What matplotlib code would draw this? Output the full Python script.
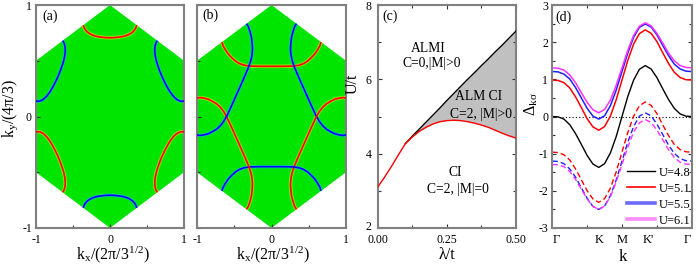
import numpy as np
import matplotlib
matplotlib.use('Agg')
import matplotlib.pyplot as plt
from matplotlib.lines import Line2D
from matplotlib.ticker import MultipleLocator, FixedLocator
from matplotlib.transforms import ScaledTranslation

plt.rcParams['font.family'] = ['Liberation Serif', 'DejaVu Serif']
plt.rcParams['mathtext.fontset'] = 'stix'
plt.rcParams['mathtext.default'] = 'regular'
plt.rcParams['axes.unicode_minus'] = False

# ---------------- data ----------------
# Brillouin-zone hexagon (units kx/(2pi/sqrt3), ky/(4pi/3))
hex_x = [0, 1, 1, 0, -1, -1]
hex_y = [1, 0.5, -0.5, -1, -0.5, 0.5]

# Fermi-surface pocket around the top K point, panel (a)
pocket_a_x = [-0.361, -0.35, -0.335, -0.31, -0.28, -0.24, -0.19, -0.135, -0.07, 0.0,
              0.07, 0.135, 0.19, 0.24, 0.28, 0.31, 0.335, 0.35, 0.361]
pocket_a_y = [0.8195, 0.797, 0.780, 0.760, 0.745, 0.731, 0.720, 0.713, 0.708, 0.706,
              0.708, 0.713, 0.720, 0.731, 0.745, 0.760, 0.780, 0.797, 0.8195]

# Fermi-surface pocket around the top K point, panel (b)
pocket_b_x = [-0.665, -0.65, -0.62, -0.58, -0.53, -0.48, -0.43, -0.37, -0.29, -0.15, 0.0,
              0.15, 0.29, 0.37, 0.43, 0.48, 0.53, 0.58, 0.62, 0.65, 0.665]
pocket_b_y = [0.6675, 0.635, 0.600, 0.560, 0.525, 0.495, 0.475, 0.460, 0.452, 0.450, 0.450,
              0.450, 0.452, 0.460, 0.475, 0.495, 0.525, 0.560, 0.600, 0.635, 0.6675]

# panel (c) phase diagram
lam = [0.0, 0.025, 0.05, 0.075, 0.1, 0.125, 0.15, 0.175, 0.2, 0.225, 0.25, 0.275, 0.3,
       0.325, 0.35, 0.375, 0.4, 0.425, 0.45, 0.475, 0.5]
U_red = [3.10, 3.37, 3.66, 3.97, 4.27, 4.45, 4.60, 4.71, 4.80, 4.86, 4.89, 4.90, 4.89,
         4.86, 4.82, 4.77, 4.71, 4.63, 4.55, 4.48, 4.42]
lam_black = [0.1, 0.125, 0.15, 0.175, 0.2, 0.225, 0.25, 0.275, 0.3, 0.325, 0.35, 0.375,
             0.4, 0.425, 0.45, 0.475, 0.5]
U_black = [4.27, 4.47, 4.66, 4.85, 5.04, 5.23, 5.43, 5.62, 5.81, 6.00, 6.18, 6.37, 6.55,
           6.74, 6.92, 7.11, 7.30]

# panel (d) gap along Gamma-K-M-K'-Gamma (K=2, M=3, K'=4, Gamma=6)
k_path = [0, 0.25, 0.5, 0.75, 1.0, 1.25, 1.5, 1.75, 2.0, 2.25, 2.5, 2.75, 3.0, 3.25, 3.5,
          3.75, 4.0, 4.25, 4.5, 4.75, 5.0, 5.25, 5.5, 5.75, 6.0]
d_48 = [0, -0.01, -0.07, -0.22, -0.46, -0.75, -1.05, -1.28, -1.37, -1.27, -0.98, -0.54, 0,
        0.54, 0.98, 1.27, 1.37, 1.28, 1.05, 0.75, 0.46, 0.22, 0.07, 0.01, 0]
d_51_up = [0.98, 0.97, 0.91, 0.77, 0.53, 0.24, -0.06, -0.28, -0.37, -0.27, 0.01, 0.45, 0.98,
           1.51, 1.95, 2.23, 2.33, 2.24, 2.02, 1.72, 1.43, 1.19, 1.05, 0.99, 0.98]
d_55_up = [1.21, 1.20, 1.14, 1.01, 0.78, 0.50, 0.22, 0.01, -0.07, 0.02, 0.29, 0.71, 1.21,
           1.71, 2.13, 2.40, 2.49, 2.41, 2.20, 1.92, 1.64, 1.41, 1.28, 1.22, 1.21]
d_61_up = [1.31, 1.30, 1.25, 1.12, 0.91, 0.64, 0.38, 0.18, 0.10, 0.19, 0.44, 0.84, 1.31,
           1.78, 2.18, 2.43, 2.52, 2.44, 2.24, 1.98, 1.71, 1.50, 1.37, 1.32, 1.31]
d_51_dn = [-0.96, -0.97, -1.03, -1.17, -1.41, -1.70, -2.00, -2.22, -2.31, -2.21, -1.93, -1.49,
           -0.96, -0.43, 0.01, 0.29, 0.39, 0.30, 0.08, -0.22, -0.51, -0.75, -0.89, -0.95, -0.96]
d_55_dn = [-1.20, -1.21, -1.27, -1.41, -1.63, -1.92, -2.20, -2.42, -2.50, -2.41, -2.13, -1.71,
           -1.20, -0.69, -0.27, 0.01, 0.10, 0.02, -0.20, -0.48, -0.77, -0.99, -1.13, -1.19, -1.20]
d_61_dn = [-1.29, -1.30, -1.35, -1.48, -1.69, -1.96, -2.22, -2.42, -2.50, -2.41, -2.16, -1.76,
           -1.29, -0.82, -0.42, -0.17, -0.08, -0.16, -0.36, -0.62, -0.89, -1.10, -1.23, -1.28, -1.29]
legend_labels = ['U=4.8', 'U=5.1', 'U=5.5', 'U=6.1']
k_labels = ['\u0393', 'K', 'M', "K'", '\u0393']
k_label_pos = [0.17, 2.0, 3.02, 4.14, 5.83]

# ---------------- figure ----------------
W, H = 696, 271
fig = plt.figure(figsize=(W / 100, H / 100), dpi=100)


def px_rect(l, r, t, b):
    return [l / W, 1 - b / H, (r - l) / W, (b - t) / H]


def ftext(x, y, s, **kw):
    fig.text(x / W, 1 - y / H, s, **kw)


SPINE = '#808080'
GREEN = '#00e500'
TICKFS = 8.5


def style(ax, top=False, right=False):
    for sp in ax.spines.values():
        sp.set_color(SPINE)
        sp.set_linewidth(1.5)
    ax.tick_params(which='both', direction='in', top=top, right=right, colors='#333333',
                   labelcolor='black', labelsize=TICKFS, width=0.8)
    ax.tick_params(axis='x', which='both', pad=4)
    ax.tick_params(axis='y', which='both', pad=3)
    ax.tick_params(which='major', length=3)
    ax.tick_params(which='minor', length=2)


r = 2 / np.sqrt(3)


def rotated(xs, ys, k):
    th = -np.pi / 3 * k
    xs = np.asarray(xs)
    ys = np.asarray(ys)
    xr = xs * np.cos(th) - ys * r * np.sin(th)
    yr = xs * np.sin(th) / r + ys * np.cos(th)
    return xr, yr


def bz_panel(ax, px, py, ylabels):
    ax.fill(hex_x, hex_y, color=GREEN, lw=0, zorder=1)
    for k in range(6):
        xr, yr = rotated(px, py, k)
        if k % 2 == 0:
            core, glow = '#ff0000', '#e8e000'
        else:
            core, glow = '#0000ff', '#00c8d8'
        ax.plot(xr, yr, color=glow, lw=2.6, alpha=0.6, zorder=2, solid_capstyle='butt')
        ax.plot(xr, yr, color=core, lw=1.2, zorder=3, solid_capstyle='butt')
    ax.set_xlim(-1, 1)
    ax.set_ylim(-1, 1)
    ax.set_xticks([-1, 0, 1])
    ax.set_xticklabels(['-1', '0', '1'])
    ax.xaxis.set_minor_locator(FixedLocator([-0.5, 0.5]))
    ax.set_yticks([-1, 0, 1])
    ax.yaxis.set_minor_locator(FixedLocator([-0.5, 0.5]))
    if ylabels:
        ax.set_yticklabels(['-1', '0', '1'])
    else:
        ax.set_yticklabels([])
    style(ax)


# (a)
axa = fig.add_axes(px_rect(36, 184, 5, 228))
bz_panel(axa, pocket_a_x, pocket_a_y, True)
# (b)
axb = fig.add_axes(px_rect(197, 346, 5, 228))
bz_panel(axb, pocket_b_x, pocket_b_y, False)

# (c)
axc = fig.add_axes(px_rect(377.7, 516, 5, 228))
axc.fill_between(lam_black, U_red[4:], U_black, color='#c0c0c0', lw=0, zorder=1)
axc.plot(lam_black, U_black, color='black', lw=1.0, zorder=3)
axc.plot(lam, U_red, color='#ff0000', lw=1.0, zorder=4)
axc.set_xlim(0, 0.5)
axc.set_ylim(2, 8)
axc.set_xticks([0, 0.25, 0.5])
axc.set_xticklabels(['0.00', '0.25', '0.50'])
axc.xaxis.set_minor_locator(FixedLocator([0.125, 0.375]))
axc.set_yticks([2, 4, 6, 8])
axc.set_yticklabels(['2', '4', '6', '8'])
axc.yaxis.set_minor_locator(FixedLocator([3, 5, 7]))
style(axc, top=True, right=True)
axc.tick_params(axis='x', which='both', pad=4.5)
axc.tick_params(axis='y', which='both', pad=4.5)
lab2 = axc.get_yticklabels()[0]
lab2.set_transform(lab2.get_transform() + ScaledTranslation(0, 3 / 100, fig.dpi_scale_trans))

# (d)
axd = fig.add_axes(px_rect(552.3, 691.7, 5, 228))
axd.plot([0, 6], [0, 0], color='black', lw=0.8, ls=(0, (1, 2)), zorder=1)
dash = (0, (4, 2.2))
c_red, c_blue, c_mag = '#ff0000', '#2020ff', '#ff30ff'
axd.plot(k_path, d_48, color='black', lw=1.0)
axd.plot(k_path, d_51_up, color=c_red, lw=1.1)
axd.plot(k_path, d_55_up, color=c_blue, lw=1.1)
axd.plot(k_path, d_61_up, color=c_mag, lw=1.1)
axd.plot(k_path, d_51_dn, color=c_red, lw=1.0, ls=dash)
axd.plot(k_path, d_55_dn, color=c_blue, lw=1.0, ls=dash)
axd.plot(k_path, d_61_dn, color=c_mag, lw=1.0, ls=dash)
axd.set_xlim(0, 6)
axd.set_ylim(-3, 3)
axd.set_yticks([-3, -2, -1, 0, 1, 2, 3])
axd.set_yticklabels(['-3', '-2', '-1', '0', '1', '2', '3'])
axd.yaxis.set_minor_locator(MultipleLocator(0.5))
axd.set_xticks([3])
axd.set_xticklabels([''])
axd.xaxis.set_minor_locator(FixedLocator([1.5, 4.5]))
style(axd, top=True, right=True)
for pos, lab in zip(k_label_pos, k_labels):
    axd.text(pos, -0.028, lab, transform=axd.get_xaxis_transform(), ha='center', va='top',
             fontsize=9)
handles = [Line2D([], [], color='black', lw=1.0),
           Line2D([], [], color='#ff0000', lw=1.2),
           Line2D([], [], color='#6a6aff', lw=2.6),
           Line2D([], [], color='#ff8cff', lw=2.6)]
axd.legend(handles, legend_labels, loc='lower right', bbox_to_anchor=(1.0, 0.0),
           frameon=False, fontsize=9, handlelength=2.2, handletextpad=0.3,
           labelspacing=0.32, borderpad=0.1, borderaxespad=0.0)

# panel letters
ftext(42, 16, '(a)', fontsize=10, ha='left', va='center')
ftext(202, 15, '(b)', fontsize=10, ha='left', va='center')
ftext(382, 16, '(c)', fontsize=10, ha='left', va='center')
ftext(555, 17, '(d)', fontsize=10, ha='left', va='center')

# axis labels
LFS = 11.5
ftext(10, 108, 'k$_y$/(4\u03c0/3)', fontsize=LFS, rotation=90, ha='center', va='center')
ftext(113, 255, 'k$_x$/(2\u03c0/3$^{1/2}$)', fontsize=LFS, ha='center', va='center')
ftext(273, 255, 'k$_x$/(2\u03c0/3$^{1/2}$)', fontsize=LFS, ha='center', va='center')
ftext(353, 84, 'U/t', fontsize=LFS, rotation=90, ha='center', va='center')
ftext(447, 255, '\u03bb/t', fontsize=LFS, ha='center', va='center')
ftext(531, 104, '\u0394$_{k\u03c3}$', fontsize=LFS, rotation=90, ha='center', va='center')
ftext(623, 257, 'k', fontsize=LFS + 0.5, ha='center', va='center')

# phase labels in (c)
TFS = 9.8
ftext(411, 48, 'ALMI', fontsize=TFS, ha='left', va='center')
ftext(403, 63, 'C=0,|M|>0', fontsize=TFS, ha='left', va='center')
ftext(455, 97, 'ALM CI', fontsize=TFS, ha='left', va='center')
ftext(450, 114, 'C=2, |M|>0', fontsize=TFS, ha='left', va='center')
ftext(455, 172, 'CI', fontsize=TFS, ha='center', va='center')
ftext(458, 189, 'C=2, |M|=0', fontsize=TFS, ha='center', va='center')

fig.savefig('out.png', dpi=100)
